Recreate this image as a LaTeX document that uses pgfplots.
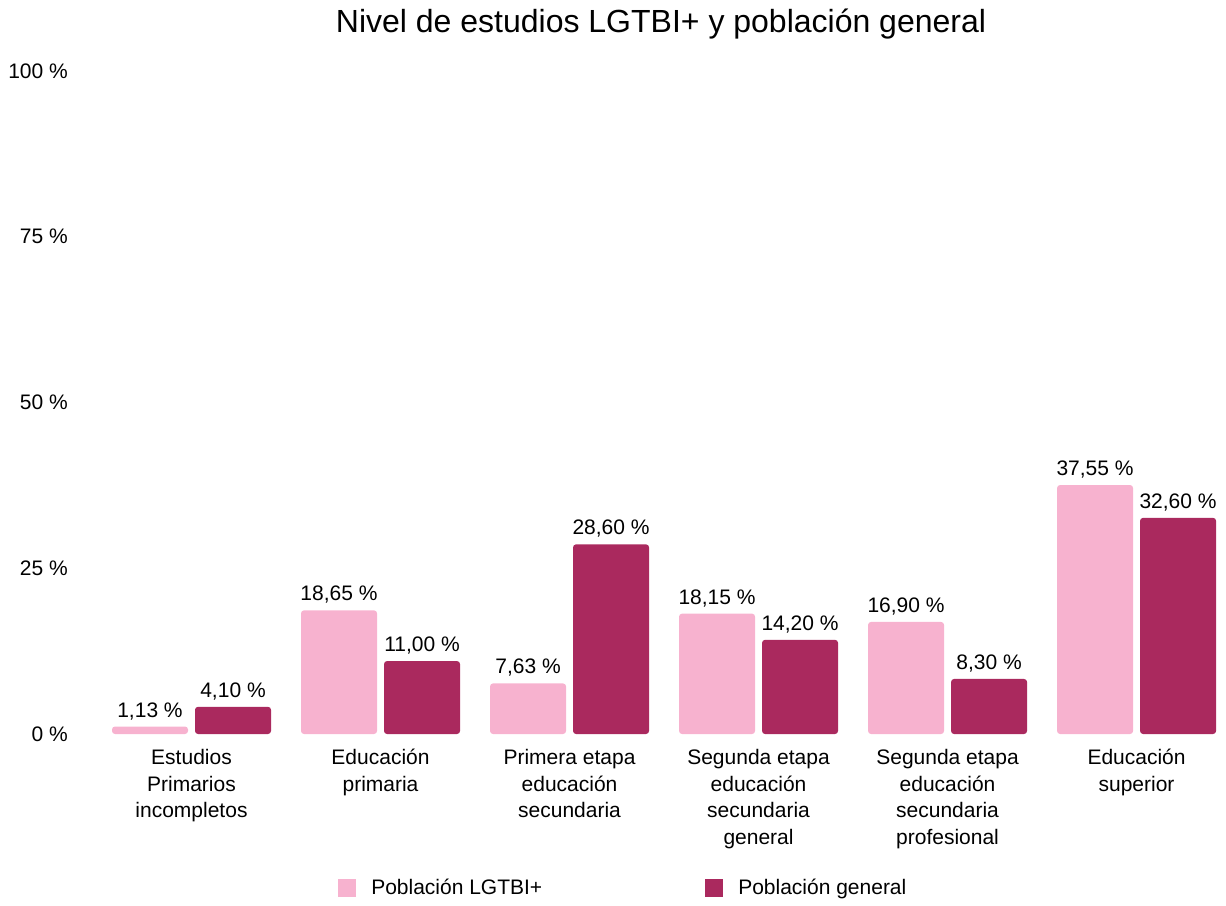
\documentclass[border=0pt]{standalone}
\usepackage{pgfplots}
\pgfplotsset{compat=1.18}
\usepackage{fontspec}
\setmainfont{Liberation Sans}
\definecolor{lgtbi}{HTML}{F7B2CF}
\definecolor{general}{HTML}{AA295E}
\begin{document}
\begin{tikzpicture}
\useasboundingbox (0,0) rectangle (1226pt,905pt);
\begin{axis}[
  at={(97pt,171pt)}, anchor=south west,
  scale only axis, width=1128pt, height=663pt,
  xmin=-0.5, xmax=5.468, ymin=0, ymax=100,
  ybar=7pt, bar width=76pt,
  axis line style={draw=none}, major tick length=0pt,
  clip=false,
  font=\fontsize{21}{26.7}\selectfont,
  ytick={0,25,50,75,100},
  yticklabels={0 \%,25 \%,50 \%,75 \%,100 \%},
  yticklabel style={anchor=east, inner sep=0pt, xshift=-29pt, font=\fontsize{21}{26.7}\selectfont},
  xtick={0,1,2,3,4,5},
  xticklabels={{Estudios\\Primarios\\incompletos},{Educación\\primaria},{Primera etapa\\educación\\secundaria},{Segunda etapa\\educación\\secundaria\\general},{Segunda etapa\\educación\\secundaria\\profesional},{Educación\\superior}},
  xticklabel style={align=center, anchor=north, inner sep=0pt, yshift=-15pt, font=\fontsize{21}{26.7}\selectfont},
  title={Nivel de estudios LGTBI+ y población general},
  title style={at={(0.5,1)}, anchor=base, yshift=32pt, inner sep=0pt, font=\fontsize{32}{38}\selectfont},
  nodes near coords={\pgfmathprintnumber[fixed,fixed zerofill,precision=2,use comma,assume math mode=true]{\pgfplotspointmeta}\ \%},
  nodes near coords style={anchor=base, inner sep=0pt, yshift=9.5pt, font=\fontsize{21}{26.7}\selectfont, text=black},
  legend columns=2,
  legend style={at={(0.2137,-0.2323)}, anchor=west, draw=none, fill=none, inner sep=0pt,
    nodes={inner sep=0pt, anchor=west, font=\fontsize{21}{26.7}\selectfont},
    /tikz/every odd column/.append style={column sep=15pt},
    /tikz/every even column/.append style={column sep=163pt}},
]
\addplot[fill=lgtbi, draw=none, rounded corners=3pt,
  legend image code/.code={\fill[lgtbi, sharp corners] (0pt,-9pt) rectangle (18pt,9pt);}]
  coordinates {(0,1.13) (1,18.65) (2,7.63) (3,18.15) (4,16.90) (5,37.55)};
\addplot[fill=general, draw=none, rounded corners=3pt,
  legend image code/.code={\fill[general, sharp corners] (0pt,-9pt) rectangle (18pt,9pt);}]
  coordinates {(0,4.10) (1,11.00) (2,28.60) (3,14.20) (4,8.30) (5,32.60)};
\legend{Población LGTBI+, Población general}
\end{axis}
\end{tikzpicture}
\end{document}
